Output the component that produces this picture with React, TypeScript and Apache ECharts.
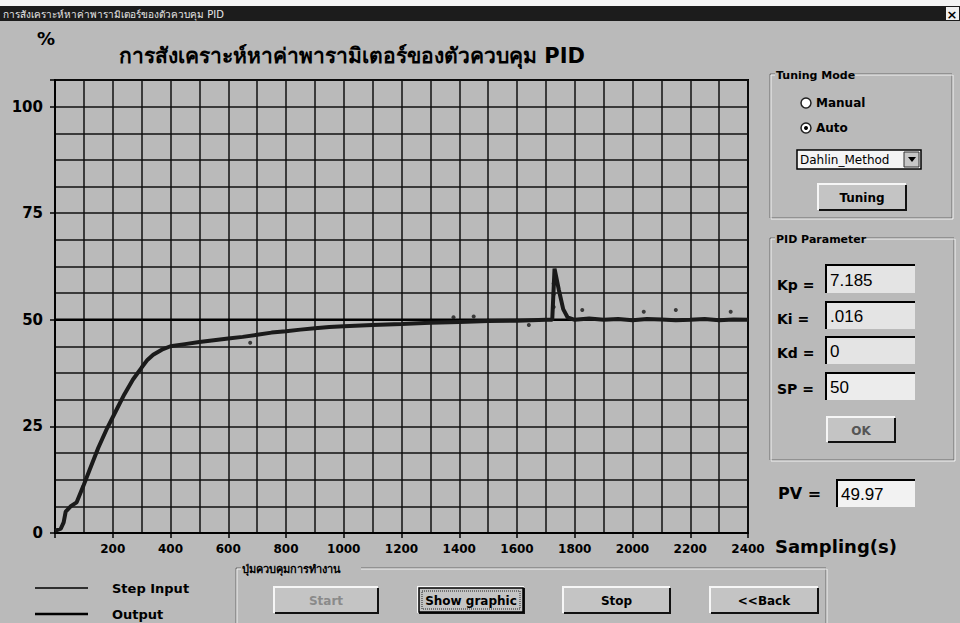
import React, { useEffect, useRef } from "react";
import * as echarts from "echarts";

// ---- data ----
const sampleTimes = [0, 20, 30, 37, 55, 75, 98, 121, 150, 180, 210, 240, 270, 300, 320, 340, 370, 400, 450, 500, 550, 600, 650, 700, 750, 800, 850, 900, 950, 1000, 1100, 1200, 1300, 1400, 1500, 1600, 1650, 1700, 1722, 1730, 1745, 1760, 1775, 1800, 1850, 1900, 1950, 2000, 2050, 2100, 2150, 2200, 2250, 2300, 2350, 2400];
const outputValues = [0.5, 1, 2.5, 5, 6.3, 7.2, 11, 15, 20, 24.5, 28.5, 32.5, 36, 38.8, 40.6, 41.8, 43, 43.8, 44.3, 44.8, 45.2, 45.6, 46, 46.5, 47, 47.3, 47.7, 48, 48.3, 48.5, 48.8, 49, 49.3, 49.5, 49.7, 49.8, 49.9, 50, 50, 62, 57, 52.5, 50.6, 50, 50.3, 50, 50.2, 49.9, 50.2, 50.1, 49.9, 50, 50.2, 49.9, 50.1, 50];
const stepTimes = [0, 2400];
const stepValues = [50, 50];
const noiseTimes = [676, 1380, 1450, 1641, 1727, 1727, 1727, 1826, 2039, 2150, 2340];
const noiseValues = [44.6, 50.6, 50.8, 48.8, 58.5, 56, 53, 52.3, 51.9, 52.3, 51.9];
const xLabelTicks = [200, 400, 600, 800, 1000, 1200, 1400, 1600, 1800, 2000, 2200, 2400];
const yLabelTicks = [0, 25, 50, 75, 100];

const kp = "7.185";
const ki = ".016";
const kd = "0";
const sp = "50";
const pv = "49.97";

const THAI_TITLE = "การสังเคราะห์หาค่าพารามิเตอร์ของตัวควบคุม PID";
const UI_FONT = 'Tahoma, "DejaVu Sans", "Noto Sans", sans-serif';
const BG = "#bababa";

function bevelButton(x: number, y: number, w: number, h: number, label: string, textColor = "#000", focus = false) {
  const children: any[] = [
    { type: "rect", shape: { x, y, width: w, height: h }, style: { fill: "#c4c4c4" } },
    { type: "polyline", shape: { points: [[x, y + h], [x, y], [x + w, y]] }, style: { stroke: "#f6f6f6", lineWidth: 2, fill: null } },
    { type: "polyline", shape: { points: [[x + 1, y + h], [x + w, y + h], [x + w, y + 1]] }, style: { stroke: "#111", lineWidth: 2, fill: null } },
    { type: "text", style: { x: x + w / 2, y: y + h / 2 + 1, text: label, fill: textColor, font: `bold 12px ${UI_FONT}`, textAlign: "center", textVerticalAlign: "middle" } },
  ];
  if (focus) {
    children.push({ type: "rect", shape: { x: x + 1, y: y + 1, width: w - 2, height: h - 2 }, style: { fill: null, stroke: "#000", lineWidth: 1.5 } });
    children.push({ type: "rect", shape: { x: x + 4, y: y + 4, width: w - 8, height: h - 8 }, style: { fill: null, stroke: "#222", lineWidth: 1, lineDash: [1, 1] } });
  }
  return { type: "group", children };
}

function groupBox(x: number, y: number, w: number, h: number, title: string, titleWidth: number) {
  return {
    type: "group",
    children: [
      { type: "rect", shape: { x, y, width: w, height: h }, style: { fill: null, stroke: "#6a6a6a", lineWidth: 1 } },
      { type: "rect", shape: { x: x + 1, y: y + 1, width: w, height: h }, style: { fill: null, stroke: "#f2f2f2", lineWidth: 1 } },
      { type: "rect", shape: { x: x + 5, y: y - 6, width: titleWidth, height: 12 }, style: { fill: BG } },
      { type: "text", style: { x: x + 6, y: y + 1, text: title, fill: "#000", font: `bold 11px ${UI_FONT}`, textAlign: "left", textVerticalAlign: "middle" } },
    ],
  };
}

function sunkenBox(x: number, y: number, w: number, h: number, value: string, fill: string, size: number) {
  return {
    type: "group",
    children: [
      { type: "rect", shape: { x, y, width: w, height: h }, style: { fill } },
      { type: "polyline", shape: { points: [[x, y + h], [x, y], [x + w, y]] }, style: { stroke: "#000", lineWidth: 2, fill: null } },
      { type: "text", style: { x: x + 4, y: y + h / 2 + 1, text: value, fill: "#000", font: `${size}px Arial, "Liberation Sans", sans-serif`, textAlign: "left", textVerticalAlign: "middle" } },
    ],
  };
}

function boldLabel(x: number, y: number, text: string, size: number, align = "left") {
  return { type: "text", style: { x, y, text, fill: "#000", font: `bold ${size}px ${UI_FONT}`, textAlign: align, textVerticalAlign: "middle" } };
}

export default function App() {
  const ref = useRef<HTMLDivElement>(null);
  useEffect(() => {
    if (!ref.current) return;
    const chart = echarts.init(ref.current, null, { renderer: "svg" });
    const outputData = sampleTimes.map((t, i) => [t, outputValues[i]]);
    const stepData = stepTimes.map((t, i) => [t, stepValues[i]]);
    const noiseData = noiseTimes.map((t, i) => [t, noiseValues[i]]);

    const graphics: any[] = [
      // window title bar
      { type: "rect", shape: { x: 0, y: 0, width: 960, height: 6 }, style: { fill: "#f4f4f4" } },
      { type: "rect", shape: { x: 0, y: 6, width: 960, height: 15 }, style: { fill: "#1c1c1c" } },
      { type: "text", style: { x: 3, y: 14, text: THAI_TITLE, fill: "#e8e8e8", font: `10px ${UI_FONT}`, textAlign: "left", textVerticalAlign: "middle" } },
      { type: "rect", shape: { x: 946, y: 7, width: 13, height: 13 }, style: { fill: "#f0f0f0" } },
      { type: "text", style: { x: 952, y: 14, text: "×", fill: "#000", font: `bold 13px ${UI_FONT}`, textAlign: "center", textVerticalAlign: "middle" } },
      // % and title
      boldLabel(46, 38, "%", 18, "center"),
      { type: "text", style: { x: 352, y: 56, text: THAI_TITLE, fill: "#000", font: `bold 21px ${UI_FONT}`, textAlign: "center", textVerticalAlign: "middle" } },
      // Tuning mode group
      groupBox(770, 74, 182, 144, "Tuning Mode", 78),
      { type: "circle", shape: { cx: 806, cy: 103, r: 5 }, style: { fill: "#fff", stroke: "#222", lineWidth: 1.5 } },
      boldLabel(816, 103, "Manual", 12),
      { type: "circle", shape: { cx: 806, cy: 128, r: 5 }, style: { fill: "#fff", stroke: "#222", lineWidth: 1.5 } },
      { type: "circle", shape: { cx: 806, cy: 128, r: 2 }, style: { fill: "#000" } },
      boldLabel(816, 128, "Auto", 12),
      { type: "rect", shape: { x: 797, y: 150, width: 124, height: 19 }, style: { fill: "#f4f4f4", stroke: "#000", lineWidth: 1.5 } },
      { type: "text", style: { x: 800, y: 160, text: "Dahlin_Method", fill: "#000", font: `12px ${UI_FONT}`, textAlign: "left", textVerticalAlign: "middle" } },
      { type: "rect", shape: { x: 904, y: 152, width: 15, height: 15 }, style: { fill: "#c6c6c6", stroke: "#333", lineWidth: 1 } },
      { type: "polygon", shape: { points: [[908, 157], [916, 157], [912, 162]] }, style: { fill: "#000" } },
      bevelButton(818, 184, 88, 26, "Tuning"),
      // PID parameter group
      groupBox(770, 238, 184, 222, "PID Parameter", 84),
      boldLabel(777, 285, "Kp =", 14),
      boldLabel(777, 319, "Ki =", 14),
      boldLabel(777, 353, "Kd =", 14),
      boldLabel(777, 389, "SP =", 14),
      sunkenBox(826, 265, 89, 28, kp, "#e4e4e4", 17),
      sunkenBox(826, 302, 89, 27, ki, "#e4e4e4", 17),
      sunkenBox(826, 337, 89, 27, kd, "#e4e4e4", 17),
      sunkenBox(826, 373, 89, 27, sp, "#ececec", 17),
      bevelButton(827, 417, 68, 25, "OK", "#555"),
      boldLabel(778, 493, "PV =", 16),
      sunkenBox(837, 480, 78, 27, pv, "#f2f2f2", 17),
      // axis name
      boldLabel(775, 546, "Sampling(s)", 18),
      // legend
      { type: "line", shape: { x1: 35, y1: 588, x2: 88, y2: 588 }, style: { stroke: "#000", lineWidth: 1.5 } },
      boldLabel(112, 588, "Step Input", 13),
      { type: "line", shape: { x1: 35, y1: 614, x2: 88, y2: 614 }, style: { stroke: "#000", lineWidth: 2.5 } },
      boldLabel(112, 614, "Output", 13),
      // control buttons group
      groupBox(236, 568, 590, 70, "ปุ่มควบคุมการทำงาน", 120),
      bevelButton(274, 587, 104, 26, "Start", "#8a8a8a"),
      bevelButton(418, 587, 106, 26, "Show graphic", "#000", true),
      bevelButton(563, 587, 107, 26, "Stop"),
      bevelButton(710, 587, 108, 26, "<<Back"),
    ];

    chart.setOption({
      animation: false,
      backgroundColor: BG,
      grid: { left: 55, top: 80, width: 693, height: 453, show: true, borderColor: "#000", borderWidth: 2, backgroundColor: "transparent" },
      xAxis: [
        {
          type: "value", min: 0, max: 2400, interval: 100,
          axisLine: { show: true, lineStyle: { color: "#000", width: 2 } },
          axisTick: { show: false },
          axisLabel: { show: false },
          splitLine: { show: true, lineStyle: { color: "#111", width: 1.5 } },
        },
        {
          type: "value", min: 0, max: 2400, interval: 200, position: "bottom",
          axisLine: { show: false },
          axisTick: { show: true, length: 5, lineStyle: { color: "#000", width: 1.5 } },
          axisLabel: {
            show: true, margin: 10, color: "#000", fontWeight: "bold", fontSize: 12, fontFamily: UI_FONT,
            formatter: (v: number) => (xLabelTicks.includes(v) ? String(v) : ""),
          },
          splitLine: { show: false },
        },
      ],
      yAxis: [
        {
          type: "value", min: 0, max: 106.25, interval: 6.25,
          axisLine: { show: true, lineStyle: { color: "#000", width: 2 } },
          axisTick: { show: false },
          axisLabel: { show: false },
          splitLine: { show: true, lineStyle: { color: "#111", width: 1.5 } },
        },
        {
          type: "value", min: 0, max: 106.25, interval: 25, position: "left",
          axisLine: { show: false },
          axisTick: { show: true, length: 5, lineStyle: { color: "#000", width: 1.5 } },
          axisLabel: {
            show: true, margin: 12, color: "#000", fontWeight: "bold", fontSize: 15, fontFamily: UI_FONT,
            formatter: (v: number) => (yLabelTicks.includes(v) ? String(v) : ""),
          },
          splitLine: { show: false },
        },
      ],
      series: [
        {
          name: "Step Input", type: "line", data: stepData, xAxisIndex: 0, yAxisIndex: 0,
          showSymbol: false, lineStyle: { color: "#000", width: 2.5 }, z: 3,
        },
        {
          name: "Output", type: "line", data: outputData, xAxisIndex: 0, yAxisIndex: 0,
          showSymbol: false, lineStyle: { color: "#1a1a1a", width: 4 }, z: 4,
        },
        {
          name: "Output noise", type: "scatter", data: noiseData, xAxisIndex: 0, yAxisIndex: 0,
          symbolSize: 4, itemStyle: { color: "#1a1a1a" }, z: 4,
        },
      ],
      graphic: { elements: graphics },
    });
    return () => chart.dispose();
  }, []);
  return <div ref={ref} style={{ position: "fixed", left: 0, top: 0, width: 960, height: 623 }} />;
}
